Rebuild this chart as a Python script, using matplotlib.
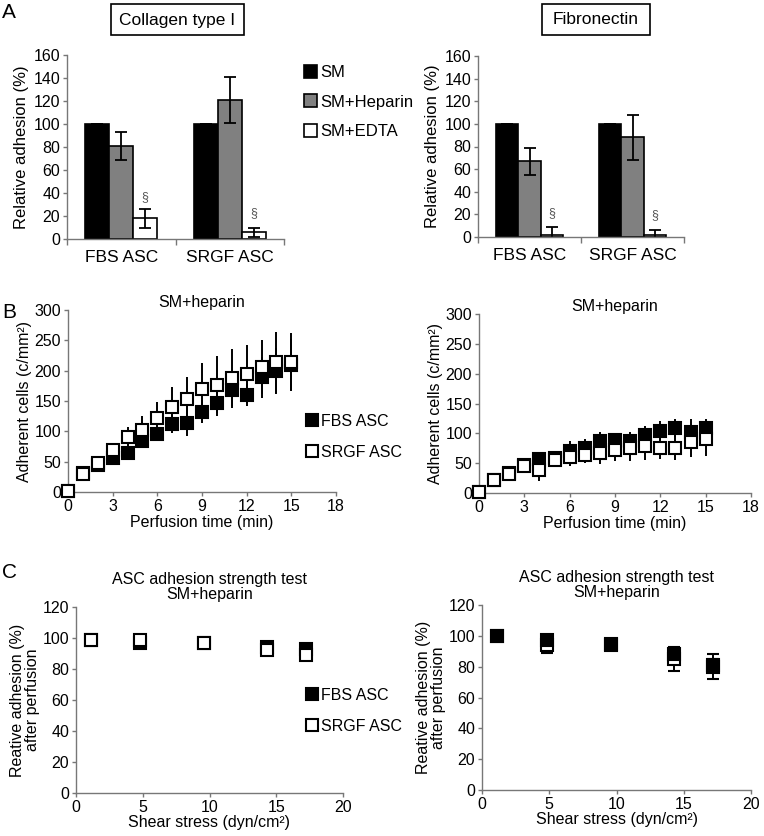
import matplotlib
matplotlib.use("Agg")
import matplotlib.pyplot as plt
from matplotlib.patches import Rectangle
from matplotlib.lines import Line2D
import numpy as np

plt.rcParams['font.family'] = ['Liberation Sans', 'DejaVu Sans']
plt.rcParams['font.size'] = 10

# ---- panel A data ----
groups = ['FBS ASC', 'SRGF ASC']
treatments = ['SM', 'SM+Heparin', 'SM+EDTA']
col_vals = [[100, 100], [81, 121], [18, 6]]
col_errs = [[0, 0], [12, 20], [8, 4]]
fib_vals = [[100, 100], [67, 88], [2, 2]]
fib_errs = [[0, 0], [12, 20], [7, 4]]
bar_colors = ['black', '#808080', 'white']

# ---- panel B data ----
time_min = list(range(16))
fbs_left = [2, 31, 44, 56, 64, 84, 95, 112, 114, 132, 146, 168, 160, 189, 200, 210]
fbs_left_err = [0, 3, 5, 6, 12, 10, 10, 15, 21, 19, 20, 29, 18, 34, 38, 42]
srgf_left = [2, 30, 48, 70, 91, 103, 122, 140, 154, 169, 177, 188, 195, 206, 214, 214]
srgf_left_err = [0, 3, 5, 10, 16, 23, 27, 33, 36, 44, 47, 47, 48, 44, 50, 48]
fbs_right = [2, 22, 33, 47, 57, 59, 70, 75, 87, 89, 87, 98, 104, 109, 103, 109]
fbs_right_err = [0, 3, 5, 6, 11, 10, 17, 15, 16, 11, 16, 14, 16, 15, 21, 15]
srgf_right = [2, 22, 32, 46, 39, 56, 60, 64, 67, 72, 75, 78, 75, 75, 85, 90]
srgf_right_err = [0, 4, 8, 10, 19, 12, 15, 14, 18, 18, 22, 22, 18, 20, 25, 28]

# ---- panel C data ----
shear = [1.1, 4.8, 9.6, 14.3, 17.2]
fbs_c_left = [99, 97, 97, 94, 93]
fbs_c_left_err = [1, 1, 1, 1, 1]
srgf_c_left = [99, 99, 97, 92, 89]
srgf_c_left_err = [1, 1, 1, 1, 1]
fbs_c_right = [100, 97, 95, 88, 81]
fbs_c_right_err = [1, 2, 2, 3, 4]
srgf_c_right = [100, 94, 94, 85, 80]
srgf_c_right_err = [1, 5, 2, 8, 8]

W, H = 764, 836
fig = plt.figure(figsize=(W / 100, H / 100), dpi=100)


def ax_at(x0, x1, ytop, ybot):
    return fig.add_axes([x0 / W, 1 - ybot / H, (x1 - x0) / W, (ybot - ytop) / H])


def style(ax):
    for s in ['top', 'right']:
        ax.spines[s].set_visible(False)
    for s in ['left', 'bottom']:
        ax.spines[s].set_color('#777777')
        ax.spines[s].set_linewidth(1.0)
    ax.tick_params(axis='both', colors='#777777', labelcolor='black', length=3, width=1.0, labelsize=11.5, pad=2)


def bar_panel(ax, vals, errs, marks):
    x = np.arange(len(groups))
    w = 0.22
    for i, t in enumerate(treatments):
        ax.bar(x + (i - 1) * w, vals[i], w, yerr=errs[i], color=bar_colors[i], edgecolor='black',
               linewidth=1.2, label=t, capsize=4, error_kw=dict(elinewidth=1.3, capthick=1.3, ecolor='black'))
    for j, h in enumerate(marks):
        ax.text(x[j] + w, h, '§', ha='center', va='bottom', fontsize=9, color='#555555')
    ax.set_xlim(-0.5, 1.5)
    ax.set_ylim(0, 160)
    ax.set_yticks(range(0, 161, 20))
    ax.set_xticks(x)
    style(ax)
    ax.set_xticklabels(groups, fontsize=12.5)
    ax.tick_params(axis='x', length=0, pad=8)
    ax.set_xticks([-0.5, 0.5, 1.5], minor=True)
    ax.tick_params(axis='x', which='minor', length=4, colors='#777777', width=1.0)
    ax.set_ylabel('Relative adhesion (%)', fontsize=12, labelpad=3)


# ---- A ----
axA1 = ax_at(67, 284, 55, 239)
bar_panel(axA1, col_vals, col_errs, [31, 17])
axA2 = ax_at(478, 684, 56, 237)
bar_panel(axA2, fib_vals, fib_errs, [16, 14])

for (x0, x1, txt) in [(111, 244, 'Collagen type I'), (542, 650, 'Fibronectin')]:
    fig.patches.append(Rectangle((x0 / W, 1 - 35 / H), (x1 - x0) / W, 31 / H, transform=fig.transFigure,
                                 facecolor='white', edgecolor='black', linewidth=1.2))
    fig.text((x0 + x1) / 2 / W, 1 - 20 / H, txt, ha='center', va='center', fontsize=12.5)

hA, lA = axA1.get_legend_handles_labels()
axA1.legend(hA, lA, loc='center left', bbox_to_anchor=(289 / W, 1 - 102 / H), bbox_transform=fig.transFigure,
            frameon=False, fontsize=12, handlelength=0.8, handleheight=0.8, handletextpad=0.2, labelspacing=0.85)

fig.text(2 / W, 1 - 12 / H, 'A', fontsize=15, va='center', ha='left')
fig.text(2 / W, 1 - 313 / H, 'B', fontsize=15, va='center', ha='left')
fig.text(2 / W, 1 - 573 / H, 'C', fontsize=15, va='center', ha='left')


def scatter_panel(ax, x, ys, es, order):
    for k in order:
        y, e, fc = ys[k], es[k], ['black', 'white'][k]
        ax.errorbar(x, y, yerr=e, fmt='s', ms=9, mfc=fc, mec='black', mew=1.5, ecolor='black',
                    elinewidth=1.4, capsize=0, zorder=3 + order.index(k))


# ---- B ----
for (x0, x1, yt, yb, fb, fbe, sg, sge, order) in [
        (68, 336, 310, 492, fbs_left, fbs_left_err, srgf_left, srgf_left_err, [0, 1]),
        (479, 751, 314, 493, fbs_right, fbs_right_err, srgf_right, srgf_right_err, [0, 1])]:
    ax = ax_at(x0, x1, yt, yb)
    scatter_panel(ax, time_min, [fb, sg], [fbe, sge], order)
    ax.set_xlim(0, 18)
    ax.set_ylim(0, 300)
    ax.set_xticks(range(0, 19, 3))
    ax.set_yticks(range(0, 301, 50))
    ax.set_xlabel('Perfusion time (min)', fontsize=11.5, labelpad=1)
    ax.set_ylabel('Adherent cells (c/mm²)', fontsize=11.5, labelpad=2)
    ax.set_title('SM+heparin', fontsize=11.5, pad=-2)
    for ch in ax.get_children():
        ch.set_clip_on(False)
    style(ax)
    if x0 < 100:
        axB1 = ax

legend_marks = [Line2D([], [], ls='none', marker='s', ms=9, mfc='black', mec='black', mew=1.5),
                Line2D([], [], ls='none', marker='s', ms=9, mfc='white', mec='black', mew=1.5)]
axB1.legend(legend_marks, ['FBS ASC', 'SRGF ASC'], loc='center left', bbox_to_anchor=(291 / W, 1 - 437 / H),
            bbox_transform=fig.transFigure, frameon=False, fontsize=11.5, handlelength=0.8, handletextpad=0.2,
            labelspacing=1.0)

# ---- C ----
for (x0, x1, yt, yb, fb, fbe, sg, sge, order) in [
        (76, 343, 607, 793, fbs_c_left, fbs_c_left_err, srgf_c_left, srgf_c_left_err, [0, 1]),
        (482, 751, 605, 790, fbs_c_right, fbs_c_right_err, srgf_c_right, srgf_c_right_err, [1, 0])]:
    ax = ax_at(x0, x1, yt, yb)
    for k in order:
        y, e, fc = [fb, sg][k], [fbe, sge][k], ['black', 'white'][k]
        ax.errorbar(shear, y, yerr=e, fmt='s', ms=9, mfc=fc, mec='black', mew=1.5, ecolor='black',
                    elinewidth=1.4, capsize=4, capthick=1.4, zorder=3 + order.index(k))
    ax.set_xlim(0, 20)
    ax.set_ylim(0, 120)
    ax.set_xticks(range(0, 21, 5))
    ax.set_yticks(range(0, 121, 20))
    style(ax)
    ax.set_xlabel('Shear stress (dyn/cm²)', fontsize=11.5, labelpad=0)
    ax.set_ylabel('Reative adhesion (%)\nafter perfusion', fontsize=11.5, labelpad=2, linespacing=1.0)
    ax.set_title('ASC adhesion strength test\nSM+heparin', fontsize=11.5, pad=6, linespacing=1.0)
    if x0 < 100:
        axC1 = ax

axC1.legend(legend_marks, ['FBS ASC', 'SRGF ASC'], loc='center left', bbox_to_anchor=(291 / W, 1 - 711 / H),
            bbox_transform=fig.transFigure, frameon=False, fontsize=11.5, handlelength=0.8, handletextpad=0.2,
            labelspacing=1.0)

fig.savefig('out.png', dpi=100)
